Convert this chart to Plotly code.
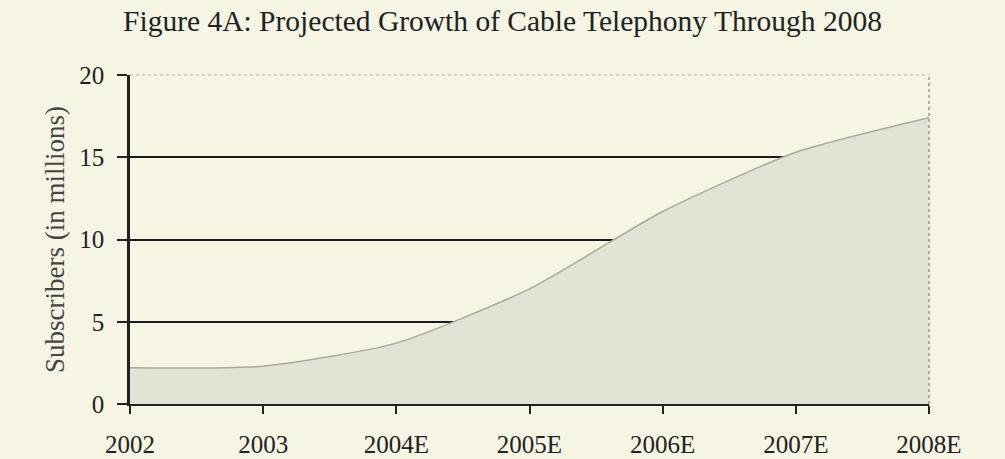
import plotly.graph_objects as go

years = ["2002", "2003", "2004E", "2005E", "2006E", "2007E", "2008E"]
subscribers = [2.2, 2.3, 3.7, 7.0, 11.7, 15.3, 17.4]
y_ticks = [0, 5, 10, 15, 20]

BG = "#f6f5e3"
FILL = "#e2e3d5"
FONT = "Liberation Serif"

fig = go.Figure()
fig.add_trace(go.Scatter(
    x=list(range(len(years))), y=subscribers,
    mode="lines", line=dict(color="#a9aa9c", width=1.5, shape="spline", smoothing=0.6),
    fill="tozeroy", fillcolor=FILL, hoverinfo="skip", showlegend=False,
))

fig.update_layout(
    width=1005, height=459,
    paper_bgcolor=BG, plot_bgcolor=BG,
    margin=dict(l=130, r=76, t=75, b=55),
    title=dict(text="Figure 4A: Projected Growth of Cable Telephony Through 2008",
               x=0.5, xanchor="center", y=0.955, yanchor="middle",
               font=dict(family=FONT, size=29.5, color="#222222")),
    font=dict(family=FONT, color="#222222"),
    xaxis=dict(
        tickmode="array", tickvals=list(range(len(years))), ticktext=years,
        range=[0, len(years) - 1], showgrid=False, zeroline=False,
        showline=True, linecolor="#222222", linewidth=2,
        ticks="outside", ticklen=8, tickwidth=2, tickcolor="#222222",
        ticklabelstandoff=9, automargin=False,
        tickfont=dict(family=FONT, size=25, color="#222222"),
    ),
    yaxis=dict(
        range=[0, 20], tickvals=y_ticks, showgrid=True,
        gridcolor="#1a1a1a", gridwidth=2, zeroline=False,
        showline=True, linecolor="#222222", linewidth=2.5,
        ticks="outside", ticklen=10, tickwidth=2, tickcolor="#222222",
        ticklabelstandoff=8, automargin=False,
        tickfont=dict(family=FONT, size=25, color="#222222"),
        title=dict(text="Subscribers (in millions)", standoff=7,
                   font=dict(family=FONT, size=27, color="#444444")),
    ),
)

fig.add_shape(type="line", xref="paper", yref="paper", x0=0, x1=1, y0=1, y1=1,
              line=dict(color="#c8c8bc", width=1.5, dash="dot"))
fig.add_shape(type="line", xref="paper", yref="paper", x0=1, x1=1, y0=0, y1=1,
              line=dict(color="#9a9a90", width=1.5, dash="dot"))

fig.write_html("out.html")
